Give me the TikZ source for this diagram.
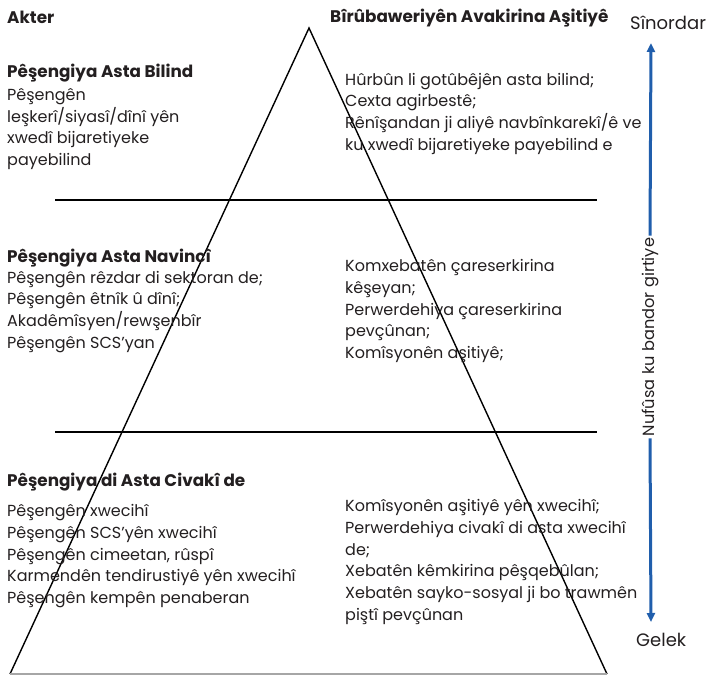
\documentclass[tikz,border=0pt]{standalone}
\usepackage{fontspec}
\setmainfont{Poppins}
\usetikzlibrary{arrows.meta}
\definecolor{txt}{RGB}{35,31,32}
\definecolor{arrowblue}{RGB}{32,94,172}
\tikzset{
  body/.style={anchor=base west, inner sep=0pt, align=left, text=txt,
    font=\fontsize{16}{21.7}\selectfont},
  head/.style={anchor=base west, inner sep=0pt, align=left, text=txt,
    font=\fontsize{16.8}{21.7}\selectfont\bfseries},
  side/.style={anchor=base west, inner sep=0pt, text=txt,
    font=\fontsize{18}{20}\selectfont},
  tri/.style={line width=1.4pt, draw=black},
  hline/.style={line width=1.4pt, draw=black},
  scalearrow/.style={line width=3pt, draw=arrowblue, -{Triangle[length=9pt,width=8pt]}},
}
\begin{document}
\begin{tikzpicture}[x=1pt,y=-1pt]
\useasboundingbox (0,0) rectangle (710,675);
% triangle
\coordinate (apex) at (309,28);
\coordinate (bl) at (10,674);
\coordinate (br) at (607,674);
\draw[tri] (bl) -- (apex) -- (br);
\draw[line width=1.4pt, draw=gray!70] (bl) -- (br);
% horizontal lines
\coordinate (h1a) at (55,200);
\coordinate (h1b) at (597,200);
\coordinate (h2a) at (55,432);
\coordinate (h2b) at (597,432);
\draw[hline] (h1a) -- (h1b);
\draw[hline] (h2a) -- (h2b);
% titles
\node[head] (akter) at (7,23) {Akter};
\node[head] (biru) at (330,22.5) {Bîrûbaweriyên Avakirina Aşitiyê};
\node[side] (sinordar) at (630,29) {Sînordar};
\node[side] (gelek) at (636,646) {Gelek};
% top block (anchored at the baseline of the last line)
\node[head] (h1) at (7,77) {Pêşengiya Asta Bilind};
\node[body] (b1) at (7,165.5) {Pêşengên\\leşkerî/siyasî/dînî yên\\xwedî bijaretiyeke\\payebilind};
\node[body] (r1) at (345,150.1) {Hûrbûn li gotûbêjên asta bilind;\\Cexta agirbestê;\\Rênîşandan ji aliyê navbînkarekî/ê ve\\ku xwedî bijaretiyeke payebilind e};
% middle block
\node[head] (h2) at (7,262) {Pêşengiya Asta Navincî};
\node[body] (b2) at (7,348.1) {Pêşengên rêzdar di sektoran de;\\Pêşengên êtnîk û dînî;\\Akadêmîsyen/rewşenbîr\\Pêşengên SCS’yan};
\node[body] (r2) at (345,358.5) {Komxebatên çareserkirina\\kêşeyan;\\Perwerdehiya çareserkirina\\pevçûnan;\\Komîsyonên aşitiyê;};
% bottom block
\node[head] (h3) at (7,486.7) {Pêşengiya di Asta Civakî de};
\node[body] (b3) at (7,603.5) {Pêşengên xwecihî\\Pêşengên SCS’yên xwecihî\\Pêşengên cimeetan, rûspî\\Karmendên tendirustiyê yên xwecihî\\Pêşengên kempên penaberan};
\node[body] (r3) at (345,620.2) {Komîsyonên aşitiyê yên xwecihî;\\Perwerdehiya civakî di asta xwecihî\\de;\\Xebatên kêmkirina pêşqebûlan;\\Xebatên sayko-sosyal ji bo trawmên\\piştî pevçûnan};
% scale arrow
\node[rotate=90, inner sep=2pt, text=txt, font=\fontsize{16.2}{18}\selectfont] (pop) at (650,337) {Nufûsa ku bandor girtiye};
\coordinate (top) at (651,43);
\coordinate (bot) at (651,622);
\draw[scalearrow] (pop.east) -- (top);
\draw[scalearrow] (pop.west) -- (bot);
\end{tikzpicture}
\end{document}
